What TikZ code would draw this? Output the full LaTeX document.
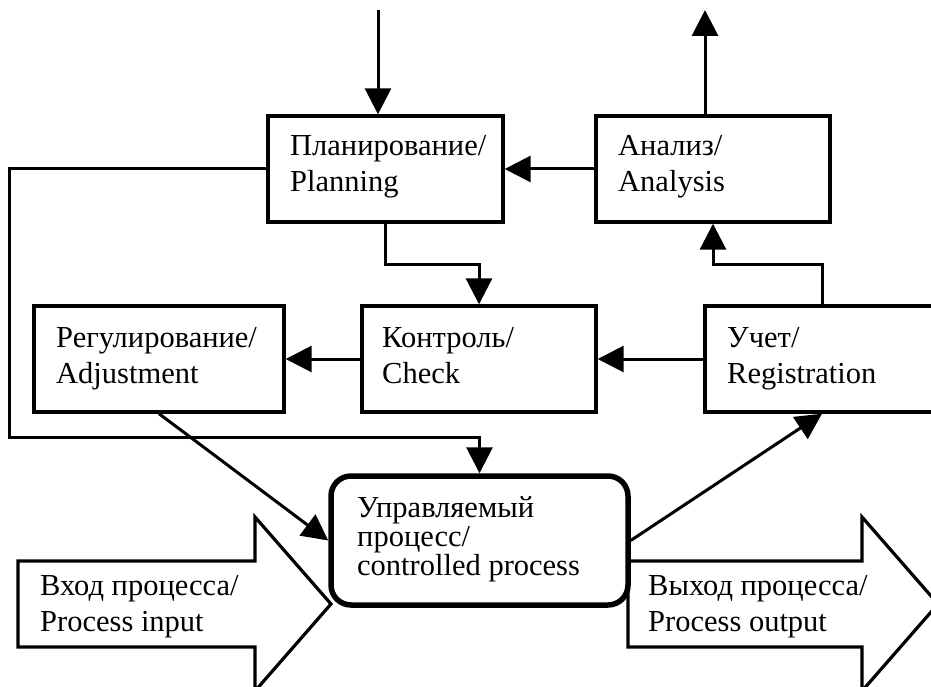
\documentclass[tikz,border=0pt]{standalone}
\usepackage{fontspec}
\setmainfont{Liberation Serif}
\usetikzlibrary{arrows.meta}
\begin{document}
\begin{tikzpicture}[x=1pt,y=-1pt,
  box/.style={draw, line width=3.4pt, inner sep=0pt, minimum height=106pt, fill=white},
  conn/.style={line width=3pt},
  arr/.style={conn, -{Triangle[length=26pt,width=26pt]}},
  txt/.style={inner sep=0pt, anchor=base west, font=\fontsize{30.5}{36}\selectfont},
  blk/.style={draw, line width=3.2pt, fill=white, line join=miter}]
\useasboundingbox (0,0) rectangle (931,687);
\clip (0,0) rectangle (931,687);
% boxes
\node[box, minimum width=235pt] (plan) at (385.5,169) {};
\node[box, minimum width=234pt] (anal) at (713,169) {};
\node[box, minimum width=250pt] (regu) at (159,359) {};
\node[box, minimum width=234pt] (ctrl) at (479,359) {};
\node[box, minimum width=234pt] (reg) at (822,359) {};
% block arrows
\draw[blk] (18,561) -- (255,561) -- (255,517) -- (331,604) -- (255,691) -- (255,647) -- (18,647) -- cycle;
\draw[blk] (628,561) -- (862,561) -- (862,517) -- (938,604) -- (862,691) -- (862,647) -- (628,647) -- cycle;
% controlled process
\node[draw, line width=5.5pt, rounded corners=20pt, minimum width=297pt, minimum height=129pt, fill=white, inner sep=0pt] (proc) at (479.5,540.5) {};
% texts
\node[txt] (tplan) at (290,156) {\parbox[t]{300pt}{Планирование/\\Planning}};
\node[txt] (tanal) at (618,156) {\parbox[t]{300pt}{Анализ/\\Analysis}};
\node[txt] (tregu) at (56,347) {\parbox[t]{300pt}{Регулирование/\\Adjustment}};
\node[txt] (tctrl) at (382,347) {\parbox[t]{300pt}{Контроль/\\Check}};
\node[txt] (treg) at (727,347) {\parbox[t]{300pt}{Учет/\\Registration}};
\node[txt, font=\fontsize{30.5}{29}\selectfont] (tproc) at (357,517) {\parbox[t]{300pt}{Управляемый\\процесс/\\controlled process}};
\node[txt] (tin) at (40,595) {\parbox[t]{300pt}{Вход процесса/\\Process input}};
\node[txt] (tout) at (648,595) {\parbox[t]{300pt}{Выход процесса/\\Process output}};
% connectors
\coordinate (topin) at (378,10);
\coordinate (topout) at (705,10);
\coordinate (L1) at (9,169);
\coordinate (L2) at (9,437);
\coordinate (M1) at (0,264);
\draw[arr] (topin) -- (topin |- plan.north);
\draw[arr] (topout |- anal.north) -- (topout);
\draw[arr] (anal.west) -- (plan.east);
\draw[arr] (plan.west) -- (L1) -- (L2) -- (L2 -| proc.north) -- (proc.north);
\draw[arr] (plan.south) -- (plan.south |- M1) -| (ctrl.north);
\draw[arr] (reg.north) -- (reg.north |- M1) -| (anal.south);
\draw[arr] (ctrl.west) -- (regu.east);
\draw[arr] (reg.west) -- (ctrl.east);
\draw[arr] (regu.south) -- (proc.west);
\draw[arr] (proc.east) -- (reg.south);
\end{tikzpicture}
\end{document}
